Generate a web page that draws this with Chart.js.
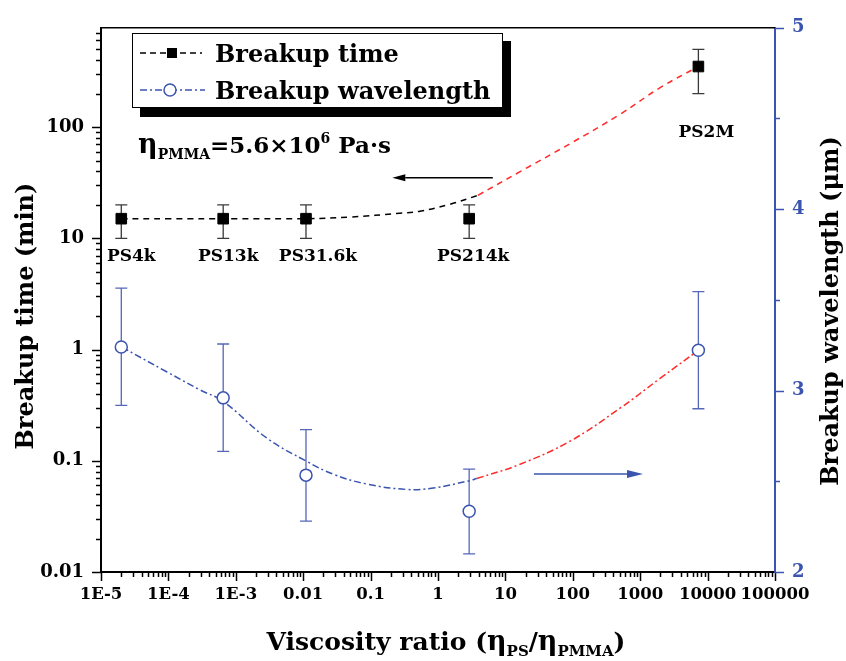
<!DOCTYPE html>
<html>
<head>
<meta charset="utf-8">
<script src="https://cdn.jsdelivr.net/npm/chart.js@4.4.1/dist/chart.umd.min.js"></script>
<style>
  html, body { margin: 0; padding: 0; background: #fff; }
  #wrap { width: 846px; height: 661px; }
</style>
</head>
<body>
<div id="wrap"><canvas id="chart" width="846" height="661"></canvas></div>
<script>
// Samples and measured values
const polymers = ['PS4k', 'PS13k', 'PS31.6k', 'PS214k', 'PS2M'];
const viscosityRatio = [2.0e-5, 6.5e-4, 0.011, 2.9, 7300];
const breakupTime = [15, 15, 15, 15, 350];
const breakupTimeLow = [10, 10, 10, 10, 200];
const breakupTimeHigh = [20, 20, 20, 20, 500];
const wavelength = [3.24, 2.96, 2.534, 2.335, 3.222];
const wavelengthLow = [2.918, 2.665, 2.28, 2.10, 2.90];
const wavelengthHigh = [3.565, 3.257, 2.785, 2.567, 3.546];

// Guide curves
const timeFitX = [2e-5, 1e-4, 1e-3, 0.011, 0.05, 0.27, 0.54, 1.5, 3.9];
const timeFitY = [15, 15, 15, 15, 15.5, 16.8, 17.5, 20.2, 24.3];
const timeExtX = [3.9, 16.5, 90, 500, 2000, 7300];
const timeExtY = [24.3, 39.7, 70.6, 130, 227, 350];
const waveFitX = [2.03e-5, 9.4e-5, 2.94e-4, 6.53e-4, 2.87e-3, 0.011, 0.028, 0.0875, 0.344, 0.85, 2.91, 3.75];
const waveFitY = [3.24, 3.104, 3.004, 2.94, 2.739, 2.612, 2.539, 2.485, 2.455, 2.463, 2.503, 2.515];
const waveExtX = [3.75, 16.5, 90.8, 501, 1968, 7300];
const waveExtY = [2.515, 2.594, 2.721, 2.903, 3.067, 3.222];

// Tick labels
const xTickLabels = ['1E-5', '1E-4', '1E-3', '0.01', '0.1', '1', '10', '100', '1000', '10000', '100000'];
const yTickLabels = ['0.01', '0.1', '1', '10', '100'];

const FONT = '"DejaVu Serif", serif';
const BLUE = '#3b54b0';
const BLUE_ERR = '#5467b9';
const RED = '#ff2b2b';

const toPoints = (xs, ys) => xs.map((v, i) => ({ x: v, y: ys[i] }));

function powExp(v) {
    const e = Math.log10(v);
    return Math.abs(e - Math.round(e)) < 1e-6 ? Math.round(e) : null;
}
function wholeMantissa(v) {
    const m = v / Math.pow(10, Math.floor(Math.log10(v) + 1e-9));
    return Math.abs(m - Math.round(m)) < 1e-6;
}

// draw a run of text pieces (for subscripts / superscripts)
function richWidth(ctx, parts) {
    return parts.reduce((w, p) => {
        ctx.font = `bold ${p.size}px ${FONT}`;
        return w + ctx.measureText(p.t).width;
    }, 0);
}
function drawRich(ctx, parts, x, y) {
    parts.forEach(p => {
        ctx.font = `bold ${p.size}px ${FONT}`;
        ctx.fillText(p.t, x, y + (p.dy || 0));
        x += ctx.measureText(p.t).width;
    });
}

function arrow(ctx, x1, x2, y, color, head, half) {
    const dir = Math.sign(x2 - x1);
    ctx.strokeStyle = color;
    ctx.fillStyle = color;
    ctx.lineWidth = 1.5;
    ctx.setLineDash([]);
    ctx.beginPath();
    ctx.moveTo(x1, y);
    ctx.lineTo(x2 - dir * head, y);
    ctx.stroke();
    ctx.beginPath();
    ctx.moveTo(x2, y);
    ctx.lineTo(x2 - dir * head, y - half);
    ctx.lineTo(x2 - dir * head, y + half);
    ctx.closePath();
    ctx.fill();
}

// minor / major tick marks on the outside of each axis
const tickMarks = {
    id: 'tickMarks',
    afterDraw(chart) {
        const { ctx, chartArea: a, scales: { x, y, y2 } } = chart;
        ctx.save();
        ctx.lineWidth = 1.5;
        ctx.strokeStyle = '#000';
        x.ticks.forEach(t => {
            if (!wholeMantissa(t.value)) return;
            const len = powExp(t.value) !== null ? 9 : 5;
            const px = Math.round(x.getPixelForValue(t.value)) + 0.5;
            ctx.beginPath(); ctx.moveTo(px, a.bottom); ctx.lineTo(px, a.bottom + len); ctx.stroke();
        });
        y.ticks.forEach(t => {
            if (!wholeMantissa(t.value)) return;
            const len = powExp(t.value) !== null ? 9 : 5;
            const py = Math.round(y.getPixelForValue(t.value)) + 0.5;
            ctx.beginPath(); ctx.moveTo(a.left, py); ctx.lineTo(a.left - len, py); ctx.stroke();
        });
        ctx.strokeStyle = BLUE;
        y2.ticks.forEach(t => {
            const len = Number.isInteger(t.value) ? 9 : 5;
            const py = Math.round(y2.getPixelForValue(t.value)) + 0.5;
            ctx.beginPath(); ctx.moveTo(a.right, py); ctx.lineTo(a.right + len, py); ctx.stroke();
        });
        // top frame line
        ctx.strokeStyle = '#000';
        ctx.beginPath(); ctx.moveTo(a.left, a.top); ctx.lineTo(a.right, a.top); ctx.stroke();
        ctx.restore();
    }
};

const errorBars = {
    id: 'errorBars',
    beforeDatasetsDraw(chart) {
        const { ctx, scales: { x, y, y2 } } = chart;
        const bar = (px, lo, hi, color) => {
            ctx.strokeStyle = color;
            ctx.lineWidth = 1.3;
            ctx.beginPath();
            ctx.moveTo(px, lo); ctx.lineTo(px, hi);
            ctx.moveTo(px - 6, lo); ctx.lineTo(px + 6, lo);
            ctx.moveTo(px - 6, hi); ctx.lineTo(px + 6, hi);
            ctx.stroke();
        };
        ctx.save();
        viscosityRatio.forEach((r, i) => {
            const px = x.getPixelForValue(r);
            bar(px, y.getPixelForValue(breakupTimeLow[i]), y.getPixelForValue(breakupTimeHigh[i]), '#3a3a3a');
            bar(px, y2.getPixelForValue(wavelengthLow[i]), y2.getPixelForValue(wavelengthHigh[i]), BLUE_ERR);
        });
        ctx.restore();
    }
};

const annotations = {
    id: 'annotations',
    afterDraw(chart) {
        const { ctx, chartArea: a, scales: { x, y, y2 } } = chart;
        ctx.save();
        ctx.fillStyle = '#000';
        ctx.textBaseline = 'alphabetic';

        // sample names
        ctx.font = `bold 17px ${FONT}`;
        ctx.textAlign = 'center';
        const nameShift = [10, 5, 12, 4, 8];
        polymers.forEach((p, i) => {
            const px = x.getPixelForValue(viscosityRatio[i]) + nameShift[i];
            const py = i < 4 ? y.getPixelForValue(breakupTimeLow[i]) + 23 : y.getPixelForValue(breakupTime[i]) + 70;
            ctx.fillText(p, px, py);
        });

        // viscosity note and arrows
        ctx.textAlign = 'left';
        drawRich(ctx, [
            { t: 'η', size: 27 },
            { t: 'PMMA', size: 14, dy: 6 },
            { t: '=5.6×10', size: 23 },
            { t: '6', size: 14, dy: -10 },
            { t: ' Pa·s', size: 23 }
        ], 138, 153);
        arrow(ctx, x.getPixelForValue(6.5), x.getPixelForValue(0.21), y.getPixelForValue(35), '#000', 13, 3.5);
        arrow(ctx, x.getPixelForValue(26.5), x.getPixelForValue(1100), y2.getPixelForValue(2.54), BLUE, 16, 4);

        // legend with drop shadow
        ctx.fillStyle = '#000';
        ctx.fillRect(140, 41, 371, 76);
        ctx.fillStyle = '#fff';
        ctx.fillRect(132, 33, 371, 75);
        ctx.strokeStyle = '#000';
        ctx.lineWidth = 1;
        ctx.strokeRect(132.5, 33.5, 370, 74);

        ctx.lineWidth = 1.5;
        ctx.setLineDash([6, 4]);
        ctx.strokeStyle = '#000';
        ctx.beginPath(); ctx.moveTo(140, 53); ctx.lineTo(202, 53); ctx.stroke();
        ctx.setLineDash([]);
        ctx.fillStyle = '#000';
        ctx.fillRect(167, 48, 10, 10);

        ctx.setLineDash([7, 3, 2, 3]);
        ctx.strokeStyle = BLUE;
        ctx.beginPath(); ctx.moveTo(140, 90); ctx.lineTo(205, 90); ctx.stroke();
        ctx.setLineDash([]);
        ctx.fillStyle = '#fff';
        ctx.beginPath(); ctx.arc(170, 90, 6, 0, Math.PI * 2); ctx.fill(); ctx.stroke();

        ctx.fillStyle = '#000';
        ctx.font = `bold 24px ${FONT}`;
        ctx.fillText('Breakup time', 215, 62);
        ctx.fillText('Breakup wavelength', 215, 99);

        // axis titles
        ctx.font = `bold 24px ${FONT}`;
        ctx.textAlign = 'center';
        ctx.save();
        ctx.translate(33, 316);
        ctx.rotate(-Math.PI / 2);
        ctx.fillText('Breakup time (min)', 0, 0);
        ctx.restore();
        ctx.save();
        ctx.translate(838, 311);
        ctx.rotate(-Math.PI / 2);
        ctx.fillText('Breakup wavelength (μm)', 0, 0);
        ctx.restore();

        ctx.textAlign = 'left';
        const xTitle = [
            { t: 'Viscosity ratio (', size: 25 },
            { t: 'η', size: 27 },
            { t: 'PS', size: 15, dy: 6 },
            { t: '/', size: 25 },
            { t: 'η', size: 27 },
            { t: 'PMMA', size: 15, dy: 6 },
            { t: ')', size: 25 }
        ];
        drawRich(ctx, xTitle, (a.left + a.right) / 2 + 8 - richWidth(ctx, xTitle) / 2, 650);
        ctx.restore();
    }
};

const curve = (xs, ys, axis, color, dash) => ({
    data: toPoints(xs, ys), yAxisID: axis,
    borderColor: color, borderDash: dash, borderWidth: 1.5,
    pointRadius: 0, tension: 0.4, order: 1
});

new Chart(document.getElementById('chart'), {
    type: 'line',
    data: {
        datasets: [
            {
                label: 'Breakup time',
                data: toPoints(viscosityRatio, breakupTime),
                yAxisID: 'y', showLine: false,
                pointStyle: 'rect', pointRadius: 7.5,
                backgroundColor: '#000', borderColor: '#000',
                order: 0
            },
            {
                label: 'Breakup wavelength',
                data: toPoints(viscosityRatio, wavelength),
                yAxisID: 'y2', showLine: false,
                pointStyle: 'circle', pointRadius: 6, pointBorderWidth: 1.5,
                backgroundColor: '#fff', borderColor: BLUE,
                order: 0
            },
            curve(timeFitX, timeFitY, 'y', '#000', [6, 5]),
            curve(timeExtX, timeExtY, 'y', RED, [6, 5]),
            curve(waveFitX, waveFitY, 'y2', BLUE, [7, 3, 2, 3]),
            curve(waveExtX, waveExtY, 'y2', RED, [7, 3, 2, 3])
        ]
    },
    options: {
        responsive: false,
        animation: false,
        layout: { padding: { top: 23, left: 0, right: 0, bottom: 0 } },
        plugins: { legend: { display: false }, tooltip: { enabled: false } },
        scales: {
            x: {
                type: 'logarithmic', min: 1e-5, max: 1e5,
                grid: { display: false, drawTicks: false },
                border: { display: true, color: '#000', width: 2 },
                afterFit: s => { s.height = 89; },
                ticks: {
                    autoSkip: false, maxRotation: 0, padding: 13,
                    color: '#000', font: { family: FONT, size: 16.5, weight: 'bold' },
                    callback: v => { const e = powExp(v); return e === null ? '' : xTickLabels[e + 5]; }
                }
            },
            y: {
                type: 'logarithmic', position: 'left', min: 0.01, max: 780,
                grid: { display: false, drawTicks: false },
                border: { display: true, color: '#000', width: 2 },
                afterFit: s => { s.width = 101; },
                ticks: {
                    autoSkip: false, padding: 17,
                    color: '#000', font: { family: FONT, size: 18, weight: 'bold' },
                    callback: v => { const e = powExp(v); return e === null ? '' : yTickLabels[e + 2]; }
                }
            },
            y2: {
                type: 'linear', position: 'right', min: 2, max: 5,
                grid: { display: false, drawTicks: false },
                border: { display: true, color: BLUE, width: 2 },
                afterFit: s => { s.width = 71; },
                ticks: {
                    stepSize: 0.5, autoSkip: false, padding: 17,
                    color: BLUE, font: { family: FONT, size: 18, weight: 'bold' },
                    callback: v => Number.isInteger(v) ? String(v) : ''
                }
            }
        }
    },
    plugins: [errorBars, tickMarks, annotations]
});
</script>
</body>
</html>
